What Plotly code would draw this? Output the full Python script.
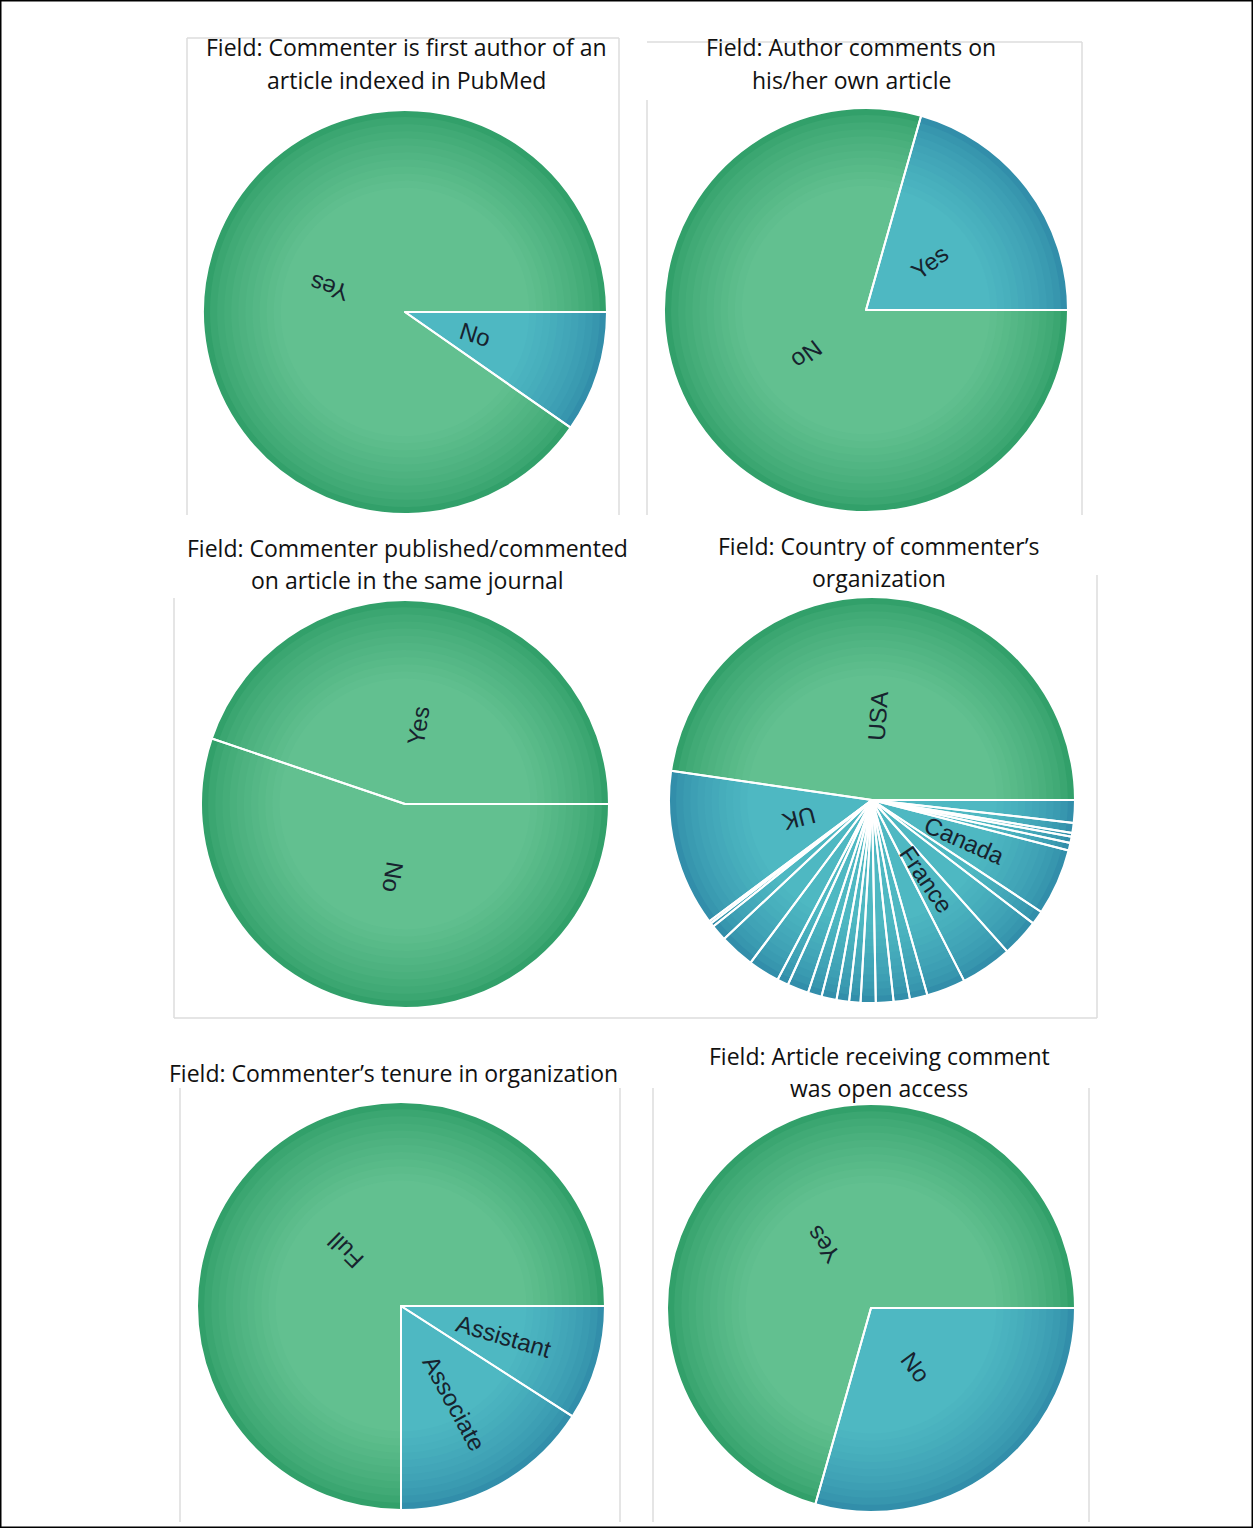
import math
import plotly.graph_objects as go

W, H = 1253, 1528

# ---------------------------------------------------------------- data --
# Shares (%) of comments per value of each field, listed counter-clockwise
# starting from 3 o'clock.
first_author_names = ["Yes", "No"]
first_author_share = [90.3, 9.7]

own_article_names = ["Yes", "No"]
own_article_share = [20.6, 79.4]

same_journal_names = ["Yes", "No"]
same_journal_share = [44.8, 55.2]

country_names = ["USA", "UK",
                 "", "", "", "", "", "", "", "", "", "", "", "", "", "",
                 "", "", "France", "", "", "Canada", "", "", "", "", ""]
country_share = [47.7, 12.5,
                 0.2, 0.3, 1.3, 2.8, 2.5, 0.9, 1.7, 1.1, 1.2, 1.0, 0.9,
                 1.2, 1.4, 1.3, 1.4, 3.1, 4.1, 3.0, 1.1, 5.3, 0.6, 0.5,
                 0.3, 0.8, 1.8]

tenure_names = ["Full", "Associate", "Assistant"]
tenure_share = [75.0, 15.9, 9.1]

open_access_names = ["Yes", "No"]
open_access_share = [70.6, 29.4]

titles = [
    ["Field: Commenter is first author of an", "article indexed in PubMed"],
    ["Field: Author comments on", "his/her own article"],
    ["Field: Commenter published/commented", "on article in the same journal"],
    ["Field: Country of commenter\u2019s", "organization"],
    ["Field: Commenter\u2019s tenure in organization"],
    ["Field: Article receiving comment", "was open access"],
]

# --------------------------------------------------------------- layout --
# pie centre x, centre y, radius (pixels)
pie_boxes = [
    (405, 312, 202),
    (866, 310, 202),
    (405, 804, 204),
    (872, 800, 203),
    (401, 1306, 204),
    (871, 1308, 204),
]
# title line centres (x, [y of each line]) in pixels
title_pos = [
    (406, [47, 80]),
    (851, [47, 80]),
    (407, [548, 580]),
    (879, [546, 578]),
    (393, [1073]),
    (879, [1056, 1088]),
]

GREEN_EDGE = (50, 160, 106)
GREEN_MID = (98, 192, 144)
TEAL_EDGE = (50, 142, 170)
TEAL_MID = (78, 184, 194)

N_RINGS = 12
RING_STEP = 0.035

LABEL_FONT = 24
LABEL_START = 0.29  # labels begin at this fraction of the radius
# approximate advance widths (em) of a Helvetica-like face
CHAR_W = {"A": 0.667, "C": 0.722, "F": 0.611, "K": 0.667, "N": 0.722, "S": 0.667,
          "U": 0.722, "Y": 0.667, "a": 0.556, "c": 0.5, "d": 0.556, "e": 0.556,
          "i": 0.222, "l": 0.222, "n": 0.556, "o": 0.556, "r": 0.333, "s": 0.5,
          "t": 0.278, "u": 0.556}


def text_len(s, size):
    return sum(CHAR_W.get(ch, 0.55) for ch in s) * size


def mix(a, b, t):
    return "rgb(%d,%d,%d)" % tuple(round(a[i] + (b[i] - a[i]) * t) for i in range(3))


def domain(cx, cy, r):
    return dict(x=[(cx - r) / W, (cx + r) / W],
                y=[1 - (cy + r) / H, 1 - (cy - r) / H])


fig = go.Figure()
annotations = []


def add_pie(shares, names, box):
    cx, cy, r = box
    # plotly lays slices out clockwise from the rotation angle, so feed the
    # counter-clockwise lists in reverse
    shares = list(shares)[::-1]
    names = list(names)[::-1]
    total = sum(shares)
    major = [s / total >= 0.4 for s in shares]
    common = dict(values=shares, sort=False, direction="clockwise",
                  rotation=90, hoverinfo="skip", showlegend=False, textinfo="none")
    # shaded body: nested discs, darker towards the rim
    for k in range(N_RINGS):
        t = (k / (N_RINGS - 1)) ** 0.7
        cols = [mix(GREEN_EDGE, GREEN_MID, t) if m else mix(TEAL_EDGE, TEAL_MID, t)
                for m in major]
        fig.add_trace(go.Pie(domain=domain(cx, cy, r * (1 - k * RING_STEP)),
                             marker=dict(colors=cols, line=dict(width=0)), **common))
    # slice outlines
    fig.add_trace(go.Pie(domain=domain(cx, cy, r),
                         marker=dict(colors=["rgba(0,0,0,0)"] * len(shares),
                                     line=dict(color="white", width=2)),
                         **common))
    # labels run outward along each slice's bisector
    acc = 0.0
    for s, name in zip(shares, names):
        mid = (acc + s / 2) / total * 360.0  # degrees clockwise from 3 o'clock
        acc += s
        if not name:
            continue
        d = LABEL_START * r + text_len(name, LABEL_FONT) / 2
        px = cx + d * math.cos(math.radians(mid))
        py = cy + d * math.sin(math.radians(mid))
        annotations.append(dict(text=name, x=px / W, y=1 - py / H, xref="paper",
                                yref="paper", xanchor="center", yanchor="middle",
                                showarrow=False, textangle=mid,
                                font=dict(family="Liberation Sans", size=LABEL_FONT,
                                          color="#17232e")))


add_pie(first_author_share, first_author_names, pie_boxes[0])
add_pie(own_article_share, own_article_names, pie_boxes[1])
add_pie(same_journal_share, same_journal_names, pie_boxes[2])
add_pie(country_share, country_names, pie_boxes[3])
add_pie(tenure_share, tenure_names, pie_boxes[4])
add_pie(open_access_share, open_access_names, pie_boxes[5])

for (x, ys), lines in zip(title_pos, titles):
    for y, line in zip(ys, lines):
        annotations.append(dict(text=line, x=x / W, y=1 - y / H, xref="paper", yref="paper",
                                xanchor="center", yanchor="middle", showarrow=False,
                                font=dict(family="Open Sans", size=23, color="#111111")))

# thin grey panel edges
panel_lines = [
    (187, 38, 187, 515), (619, 38, 619, 515), (187, 38, 619, 38),
    (647, 100, 647, 515), (1082, 42, 1082, 515), (647, 42, 1082, 42),
    (174, 598, 174, 1018), (1097, 575, 1097, 1018), (174, 1018, 1097, 1018),
    (180, 1088, 180, 1522), (620, 1088, 620, 1522),
    (653, 1088, 653, 1522), (1089, 1088, 1089, 1522),
]
shapes = [dict(type="line", xref="paper", yref="paper",
               x0=a / W, y0=1 - b / H, x1=c / W, y1=1 - d / H,
               line=dict(color="#dcdcdc", width=1.5), layer="below")
          for a, b, c, d in panel_lines]
shapes.append(dict(type="rect", xref="paper", yref="paper", x0=0, y0=0, x1=1, y1=1,
                   line=dict(color="black", width=3), layer="above"))

fig.update_layout(width=W, height=H, margin=dict(l=0, r=0, t=0, b=0),
                  paper_bgcolor="white", plot_bgcolor="white",
                  showlegend=False, annotations=annotations, shapes=shapes)

fig.write_html("out.html")
